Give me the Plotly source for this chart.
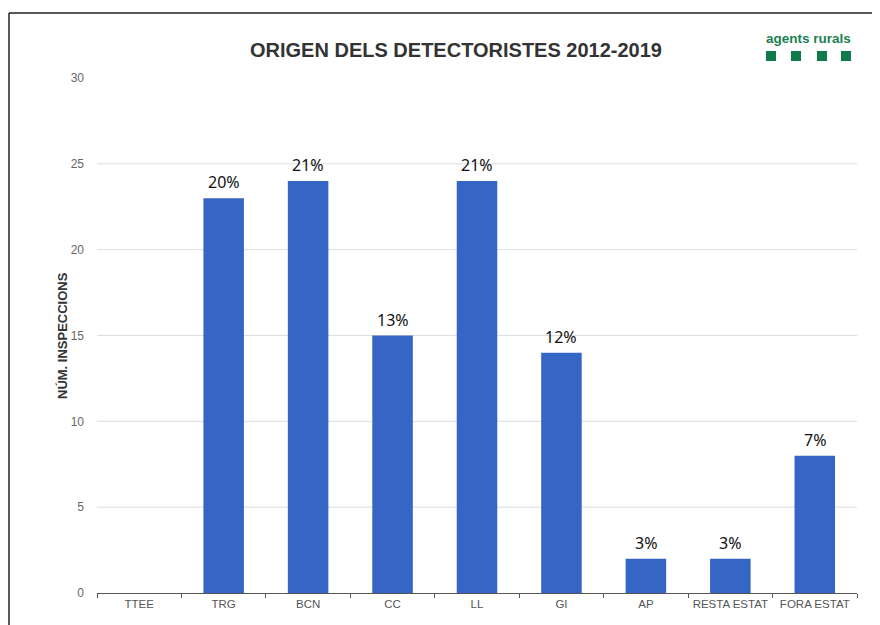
import plotly.graph_objects as go

categories = ["TTEE", "TRG", "BCN", "CC", "LL", "GI", "AP", "RESTA ESTAT", "FORA ESTAT"]
values = [0, 23, 24, 15, 24, 14, 2, 2, 8]
pct_labels = ["", "20%", "21%", "13%", "21%", "12%", "3%", "3%", "7%"]
y_ticks = [0, 5, 10, 15, 20, 25, 30]
grid_vals = [5, 10, 15, 20, 25]

W, H = 880, 625
OFF = 8  # page body margin offset
L, R, T, B = 97 - OFF, 23 + OFF, 78 - OFF, 32 + OFF
pw, ph = W - L - R, H - T - B

def px(x):
    return (x - OFF - L) / pw

def py(y):
    return (H - B - (y - OFF)) / ph

fig = go.Figure()
fig.add_trace(go.Bar(
    x=categories, y=values, width=0.48,
    marker=dict(color="#3566c6", line=dict(width=0)),
))

shapes = []
for g in grid_vals:
    shapes.append(dict(type="line", xref="paper", yref="y", x0=0, x1=1, y0=g, y1=g,
                       line=dict(color="#dddddd", width=1), layer="below"))
# frame (left edge kept just inside the canvas)
shapes.append(dict(type="line", xref="paper", yref="paper", x0=px(OFF + 1), x1=px(OFF + 1), y0=py(13), y1=py(640),
                   line=dict(color="#222222", width=1.5)))
shapes.append(dict(type="line", xref="paper", yref="paper", x0=px(OFF + 1), x1=px(895), y0=py(13), y1=py(13),
                   line=dict(color="#222222", width=1.5)))
# logo squares
for cx in [771, 796, 822, 846]:
    shapes.append(dict(type="rect", xref="paper", yref="paper", x0=px(cx - 5), x1=px(cx + 5),
                       y0=py(61), y1=py(51), fillcolor="#0f7a4c", line=dict(width=0)))

annotations = [
    dict(text="<b>NÚM. INSPECCIONS</b>", xref="paper", yref="paper", x=px(62), y=py(336),
         textangle=-90, showarrow=False, xanchor="center", yanchor="middle",
         font=dict(family="Liberation Sans, Arial, sans-serif", size=13, color="#333333")),
    dict(text="<b>agents rurals</b>", xref="paper", yref="paper", x=px(808), y=py(39),
         showarrow=False, xanchor="center", yanchor="middle",
         font=dict(family="Liberation Sans, Arial, sans-serif", size=13.5, color="#1a8050")),
]
for c, v, t in zip(categories, values, pct_labels):
    if t:
        annotations.append(dict(text=t, x=c, y=v, xref="x", yref="y", showarrow=False,
                                yanchor="bottom", yshift=3,
                                font=dict(family="Noto Sans, Open Sans, sans-serif", size=16, color="#111111")))

fig.update_layout(
    width=W, height=H,
    margin=dict(l=L, r=R, t=T, b=B),
    paper_bgcolor="white", plot_bgcolor="white",
    showlegend=False,
    title=dict(text="<b>ORIGEN DELS DETECTORISTES 2012-2019</b>", x=(456 - OFF) / W, xanchor="center",
               y=1 - (50 - OFF) / H, yanchor="middle",
               font=dict(family="Liberation Sans, Arial, sans-serif", size=20, color="#333333")),
    xaxis=dict(type="category", showgrid=False, showline=True, linecolor="#555555", linewidth=1.2,
               ticks="outside", tickson="boundaries", ticklen=4, tickcolor="#555555", tickangle=0,
               tickfont=dict(family="Liberation Sans, Arial, sans-serif", size=11.5, color="#555555"),
               range=[-0.5, 8.5]),
    yaxis=dict(range=[0, 30], tickvals=y_ticks, showgrid=False, zeroline=False, showline=False,
               ticklabelstandoff=12,
               tickfont=dict(family="Liberation Sans, Arial, sans-serif", size=12, color="#666666")),
    shapes=shapes,
    annotations=annotations,
)

fig.write_html("out.html")
